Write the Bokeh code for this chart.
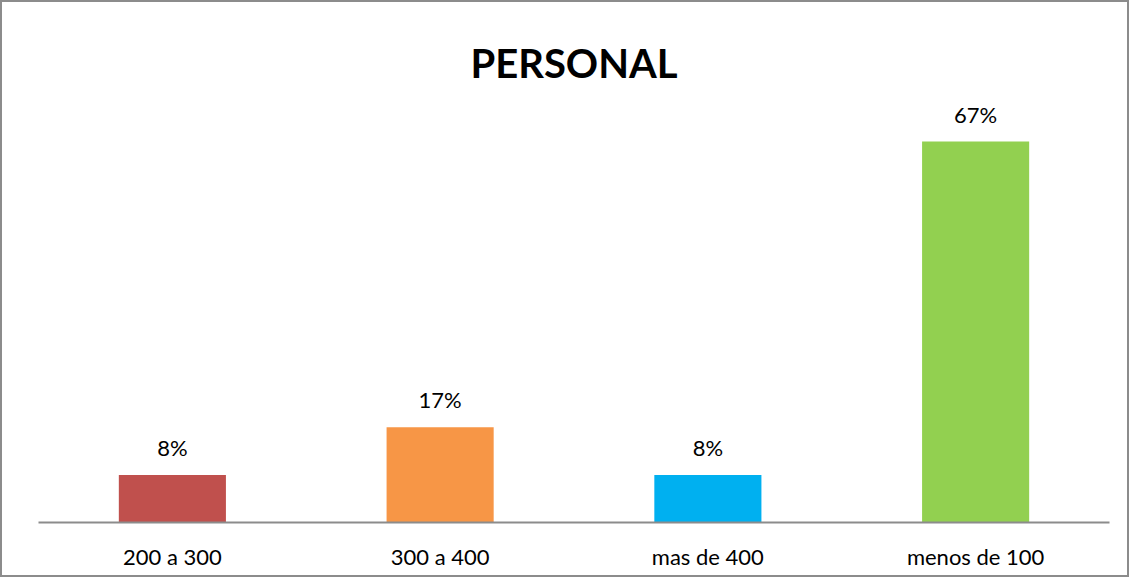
from bokeh.plotting import figure
from bokeh.models import ColumnDataSource, LabelSet, Range1d, FactorRange
from bokeh.core.properties import value
from bokeh.embed import file_html
from bokeh.resources import INLINE

categories = ["200 a 300", "300 a 400", "mas de 400", "menos de 100"]
values = [8.33, 16.67, 8.33, 66.67]
labels = ["8%", "17%", "8%", "67%"]
colors = ["#C0504D", "#F79646", "#00B0F0", "#92D050"]

FONT = "Lato"

src = ColumnDataSource(dict(cat=categories, val=values, lab=labels, col=colors))

p = figure(x_range=FactorRange(*categories, range_padding=0), y_range=Range1d(0, 75.44),
           width=1129, height=577, output_backend="svg", toolbar_location=None,
           min_border_left=36, min_border_right=22, min_border_top=89, min_border_bottom=57,
           title="PERSONAL")
p.styles = {"border": "2px solid #8C8C8C", "box-sizing": "border-box"}

p.title.align = "center"
p.title.text_font = FONT
p.title.text_font_size = "40px"
p.title.text_font_style = "bold"
p.title.text_color = "#000000"

p.vbar(x="cat", top="val", width=0.40, fill_color="col", line_color=None, source=src)

p.add_layout(LabelSet(x="cat", y="val", text="lab", source=src, text_align="center",
                      text_baseline="alphabetic", y_offset=19, text_font=value(FONT),
                      text_font_size=value("22px"), text_color="#000000"))

p.yaxis.visible = False
p.xgrid.grid_line_color = None
p.ygrid.grid_line_color = None
p.outline_line_color = None
p.xaxis.axis_line_color = "#8C8C8C"
p.xaxis.axis_line_width = 2
p.xaxis.major_tick_line_color = None
p.xaxis.minor_tick_line_color = None
p.xaxis.major_label_standoff = 14
p.xaxis.major_label_text_font = FONT
p.xaxis.major_label_text_font_size = "22px"
p.xaxis.major_label_text_color = "#000000"

open("out.html", "w").write(file_html(p, INLINE))
